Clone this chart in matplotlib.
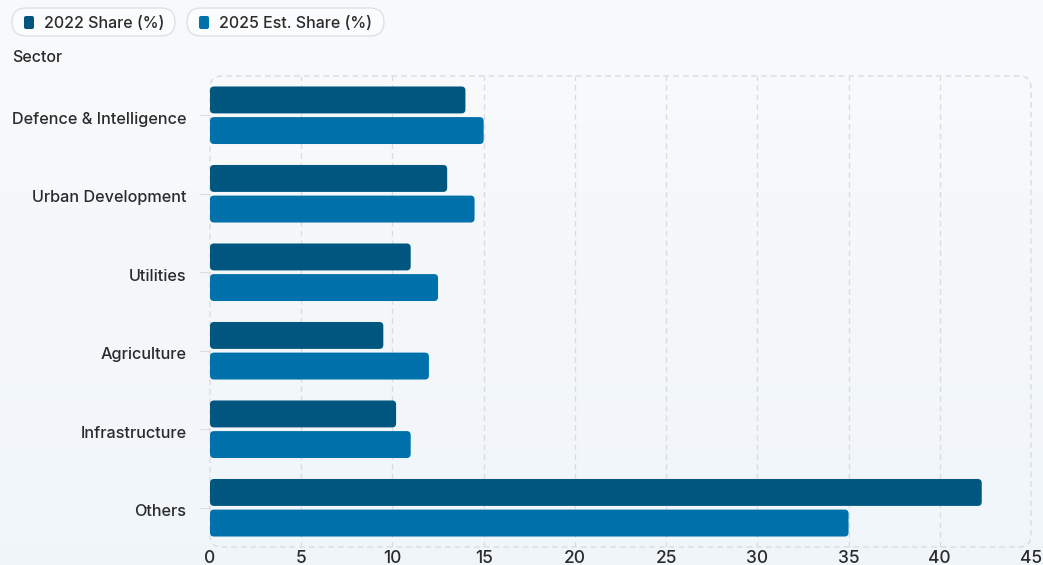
import numpy as np
import matplotlib
matplotlib.use('Agg')
import matplotlib.pyplot as plt
import matplotlib.transforms as mtrans
from matplotlib.patches import FancyBboxPatch

plt.rcParams['font.family'] = ['Inter', 'DejaVu Sans']
plt.rcParams['font.weight'] = 'medium'

# 데이터
sectors = ['Defence & Intelligence', 'Urban Development', 'Utilities',
           'Agriculture', 'Infrastructure', 'Others']
share_2022 = [14.0, 13.0, 11.0, 9.5, 10.2, 42.3]
share_2025 = [15.0, 14.5, 12.5, 12.0, 11.0, 35.0]
series_names = ['2022 Share (%)', '2025 Est. Share (%)']
x_ticks = [0, 5, 10, 15, 20, 25, 30, 35, 40, 45]

c_dark = '#00567f'
c_light = '#0071aa'
text_c = '#2b2b2b'
grid_c = '#d9dde1'

fig = plt.figure(figsize=(10.43, 5.65), dpi=100)

# 배경 그라데이션
bg = fig.add_axes([0, 0, 1, 1], zorder=-10)
grad = np.linspace(0, 1, 256).reshape(-1, 1)
top = np.array([0.976, 0.980, 0.986])
bot = np.array([0.942, 0.964, 0.980])
img = top + (bot - top) * grad[..., None]
bg.imshow(img, aspect='auto', extent=[0, 1, 0, 1])
bg.axis('off')

ax_top, ax_bot = 76, 547
ax = fig.add_axes([210 / 1043, 1 - ax_bot / 565, (1031 - 210) / 1043, (ax_bot - ax_top) / 565])
ax.set_facecolor('none')
for s in ax.spines.values():
    s.set_visible(False)

n = len(sectors)
y = np.arange(n)
h = 0.343
off = 0.195
bars1 = ax.barh(y - off, share_2022, height=h, color=c_dark)
bars2 = ax.barh(y + off, share_2025, height=h, color=c_light)
ax.set_xlim(0, 45)
ax.set_ylim(n - 0.5, -0.5)

# 둥근 막대로 교체
x_per_px = 45 / 821
y_per_px = n / (ax_bot - ax_top)
aspect = y_per_px / x_per_px
for bars, col in ((bars1, c_dark), (bars2, c_light)):
    for b in bars:
        b.set_visible(False)
        p = FancyBboxPatch((b.get_x(), b.get_y()), b.get_width(), b.get_height(),
                           boxstyle='round,pad=0,rounding_size=%f' % (4 * x_per_px),
                           mutation_aspect=aspect, facecolor=col, edgecolor='none',
                           zorder=3)
        ax.add_patch(p)

# 그리드와 테두리
for xv in x_ticks[1:-1]:
    ax.axvline(xv, color=grid_c, lw=1, ls=(0, (4, 3)), zorder=1)
frame = FancyBboxPatch((0, 0), 1, 1, transform=ax.transAxes,
                       boxstyle='round,pad=0,rounding_size=0.014',
                       mutation_aspect=821 / (ax_bot - ax_top),
                       facecolor='none', edgecolor=grid_c, lw=1,
                       ls=(0, (4, 3)), zorder=1, clip_on=False)
ax.add_patch(frame)

ax.set_xticks(x_ticks)
ax.set_xticklabels([str(v) for v in x_ticks], fontsize=12.5, color=text_c)
ax.tick_params(axis='x', length=0, pad=2)
ax.set_yticks(y)
ax.set_yticklabels(sectors, fontsize=11.7, color=text_c)
ax.tick_params(axis='y', length=7, width=0.8, color=grid_c, pad=10)
shift = mtrans.ScaledTranslation(0, -2.5 / 100, fig.dpi_scale_trans)
for lab in ax.get_yticklabels():
    lab.set_transform(lab.get_transform() + shift)

fig.text(12 / 1043, 1 - 58 / 565, 'Sector', fontsize=11.5, color=text_c,
         ha='left', va='center')

# 범례 (알약 모양)
pills = [(12, 175), (187, 384)]
for (x0, x1), name, col in zip(pills, series_names, [c_dark, c_light]):
    fig.patches.append(FancyBboxPatch(
        (x0 / 1043, 1 - 36 / 565), (x1 - x0) / 1043, 28 / 565,
        boxstyle='round,pad=0,rounding_size=%f' % (14 / 1043),
        mutation_aspect=1043 / 565,
        transform=fig.transFigure, facecolor='#fbfcfd', edgecolor='#dde1e5', lw=1))
    fig.patches.append(FancyBboxPatch(
        ((x0 + 12) / 1043, 1 - 29 / 565), 10 / 1043, 13 / 565,
        boxstyle='round,pad=0,rounding_size=%f' % (2 / 1043),
        mutation_aspect=1043 / 565,
        transform=fig.transFigure, facecolor=col, edgecolor='none'))
    fig.text((x0 + 32) / 1043, 1 - 23 / 565, name, fontsize=11.5, color=text_c,
             ha='left', va='center')

fig.savefig('out.png', dpi=100)
